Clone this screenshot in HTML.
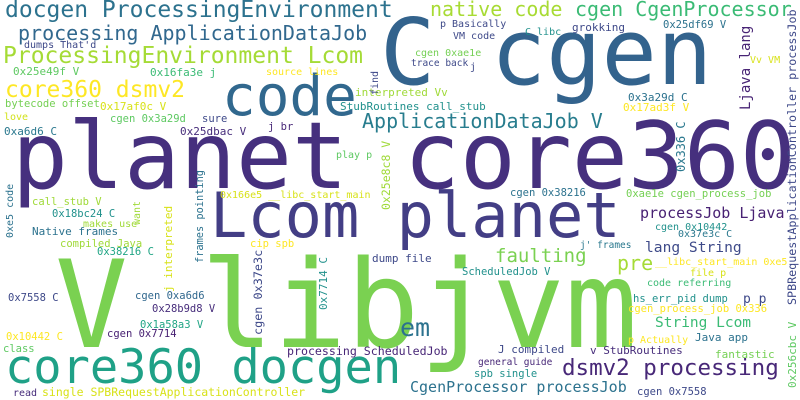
<!DOCTYPE html>
<html><head><meta charset="utf-8"><style>
html,body{margin:0;padding:0;background:#fff;}
svg{display:block;}
text{font-family:"DejaVu Sans Mono","Liberation Mono",monospace;white-space:pre;}
</style></head><body>
<svg id="cloud" width="800" height="400" viewBox="0 0 800 400" xmlns="http://www.w3.org/2000/svg">
<rect width="800" height="400" fill="#ffffff"/>
</svg>
<script>
const words = ["planet core360","V libjvm","C cgen","Lcom planet","code","core360 docgen",
"docgen ProcessingEnvironment","processing ApplicationDataJob","ProcessingEnvironment Lcom","core360 dsmv2",
"native code","cgen CgenProcessor","ApplicationDataJob V","dsmv2 processing","processJob Ljava","lang String",
"faulting","pre","String Lcom","em","CgenProcessor processJob","processing ScheduledJob",
"dumps That'd","0x25e49f V","0x16fa3e j","source lines","bytecode offset","0x17af0c V","interpreted Vv",
"StubRoutines call_stub","love","cgen 0x3a29d","sure","j br","0xa6d6 C","0x25dbac V","play p",
"0x166e5 __libc_start_main","call_stub V","p Basically","VM code","C libc","grokking","0x25df69 V",
"cgen 0xae1e","trace back","j","Vv VM","0x3a29d C","0x17ad3f V","cgen 0x38216","0xae1e cgen_process_job",
"0x18bc24 C","makes use","Native frames","compiled Java","0x38216 C","cip spb","dump file","0x7558 C",
"cgen 0xa6d6","0x28b9d8 V","0x1a58a3 V","0x10442 C","cgen 0x7714","class","read",
"single SPBRequestApplicationController","cgen 0x10442","0x37e3c C","j' frames","ScheduledJob V",
"__libc_start_main 0xe5","file p","code referring","hs_err_pid dump","p p","cgen_process_job 0x336",
"p Actually","Java app","J compiled","v StubRoutines","fantastic","general guide","spb single","cgen 0x7558",
"Ljava lang","SPBRequestApplicationController processJob","0x336 C","0x256cbc V","0x7714 C","cgen 0x37e3c",
"j interpreted","frames pointing","want","0xe5 code","0x25e8c8 V","find"];
const weights = [93,121,92,62,56,47,23,20,23,23,20,20,20,22.5,15,14.6,19,20,14.5,25,15,11.6,
10,11,11,10,10.5,11,11,11,10,10.5,10.5,10.5,11,11,10,10,10.5,10,10,10,11,10.5,10,9.5,10,10,11,11,10.5,10.5,
10.5,10,11,10.5,10.5,10.5,11,10.5,10.5,10.5,10.5,10.5,10.5,10.5,10,11.5,10,10,9.5,10.5,10,10,10,10.5,13,10.5,
10,11,11,11,11,9.5,10.5,10.5,14,11.7,12,11,11,11.8,11,10.3,10,10,11.5,10];
const xs = [12,55,380,210,222,5,5,18,3,5,430,575,362,562,640,645,495,617,655,400,410,287,
24,13,150,266,5,100,355,340,4,110,202,268,4,180,336,220,32,440,453,525,572,663,415,411,470,750,628,623,510,626,
52,83,32,60,97,250,372,8,135,152,140,6,107,3,13,42,655,678,580,462,655,690,647,633,743,628,628,695,498,590,715,478,474,637,
750,796,685,796,327,262,172,203,140,13,390,378];
const ys = [188,347,84,237,115,383,17,40,63,97,16,16,128,375,218,252,262,270,327,336,392,355,
48,75,76,75,107,110,96,110,120,122,122,130,135,135,158,198,205,27,39,35,31,28,56,66,70,63,101,111,196,197,
217,227,235,247,255,247,262,301,299,312,328,340,337,352,396,396,230,237,248,275,265,276,286,302,303,312,343,341,353,354,358,365,377,395,
110,305,172,388,310,335,292,263,225,238,210,95];
const rots = [0,0,0,0,0,0,0,0,0,0,0,0,0,0,0,0,0,0,0,0,0,0,
0,0,0,0,0,0,0,0,0,0,0,0,0,0,0,0,0,0,0,0,0,0,0,0,0,0,0,0,0,0,
0,0,0,0,0,0,0,0,0,0,0,0,0,0,0,0,0,0,0,0,0,0,0,0,0,0,0,0,0,0,0,0,0,0,
-90,-90,-90,-90,-90,-90,-90,-90,-90,-90,-90,-90];
const colors = ["#46307e","#7ad151","#33638d","#433e85","#31688e","#1fa187","#2c728e","#31688e","#a5db36","#fde725",
"#a8db34","#3bbb75","#287d8e","#482878","#482173","#3e4a89","#7ad151","#a5db36","#3bbb75","#2c728e","#2c728e","#482677",
"#3e4989","#5ec962","#3bbb75","#fde725","#75d054","#d8e219","#a0da39","#21918c","#d2e21b","#5ec962","#3e4989","#482878",
"#2a788e","#472d7b","#5ec962","#d8e219","#a0da39","#3e4989","#3e4989","#21918c","#3e4989","#2c728e","#75d054","#3e4989",
"#3e4989","#d8e219","#2c728e","#fde725","#2c728e","#75d054",
"#21918c","#a0da39","#2c728e","#a0da39","#21a585","#fde725","#3e4989","#3e4989","#31688e","#472d7b","#21a585","#fde725",
"#482173","#5ec962","#472d7b","#d8e219","#21918c","#2a788e","#2a788e","#21918c","#fde725","#d8e219","#3bbb75","#21918c",
"#3e4989","#fde725","#fde725","#2c728e","#3e4989","#472d7b","#75d054","#482878","#21918c","#3e4989",
"#482475","#3e4989","#2a788e","#5ec962","#21918c","#3e4989","#d8e219","#2c728e","#a0da39","#2c728e","#a0da39","#3e4989"];
const svg = document.getElementById('cloud');
const NS = 'http://www.w3.org/2000/svg';
for (let i = 0; i < words.length; i++) {
  const t = document.createElementNS(NS, 'text');
  t.setAttribute('x', xs[i]);
  t.setAttribute('y', ys[i]);
  t.setAttribute('font-size', weights[i]);
  t.setAttribute('fill', colors[i]);
  if (rots[i]) t.setAttribute('transform', 'rotate(' + rots[i] + ' ' + xs[i] + ' ' + ys[i] + ')');
  t.textContent = words[i];
  
  
  svg.appendChild(t);
}
</script>
</body></html>
